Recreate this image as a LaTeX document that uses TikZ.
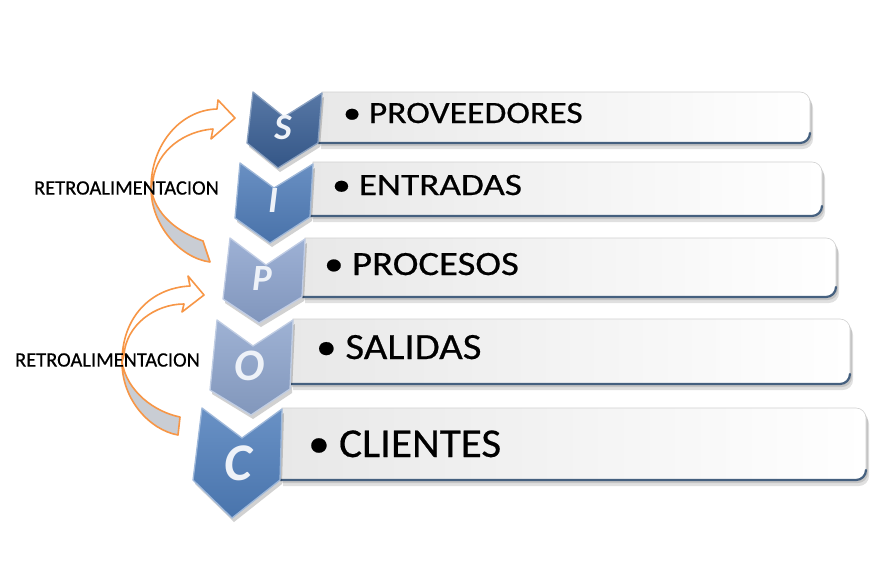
\documentclass[tikz,border=0pt]{standalone}
\usepackage{fontspec}
\setmainfont{Carlito}
\newfontfamily\rowfont[FakeBold=0.5]{Carlito}
\usepackage{graphicx}
\definecolor{cS}{HTML}{3A6096}
\definecolor{cI}{HTML}{4F7CB8}
\definecolor{cP}{HTML}{8CA3CD}
\definecolor{cO}{HTML}{8DA4CC}
\definecolor{cC}{HTML}{4F7EBB}
\definecolor{arrOr}{HTML}{F79646}
\definecolor{arrGray}{HTML}{C9CDD4}
\definecolor{edgeBlue}{HTML}{45607F}
\definecolor{letterW}{HTML}{EEF2F8}
\newcommand{\rowpath}[5]{(#1,#3) -- ({#5-10},#3) .. controls ({#5-4.5},#3) and (#5,{#3+4.5}) .. (#5,{#3+10}) -- (#5,{#4-10}) .. controls (#5,{#4-4.5}) and ({#5-4.5},#4) .. ({#5-10},#4) -- (#2,#4) -- cycle}
\newcommand{\rowedge}[4]{(#1,#2) -- ({#4-10},#2) .. controls ({#4-4.5},#2) and (#4,{#2-4.5}) .. (#4,{#2-10})}
\newcommand{\drawrow}[5]{%
  \fill[black,opacity=0.12,shift={(3,6)}] \rowpath{#1}{#2}{#3}{#4}{#5};
  \fill[black,opacity=0.12,shift={(2,3)}] \rowpath{#1}{#2}{#3}{#4}{#5};
  \path[rowbox] \rowpath{#1}{#2}{#3}{#4}{#5};
  \draw[rowedge] \rowedge{#2}{#4}{#3}{#5};}
\tikzset{
  rowbox/.style={left color=black!9, right color=white, draw=black!18, line width=0.6pt},
  rowedge/.style={draw=edgeBlue, line width=2.2pt, line cap=round},
  chevbase/.style={line width=1.3pt, line join=round},
  chevshadow/.style={fill=black, opacity=0.18, shift={(2,4)}},
  letter/.style={text=letterW, inner sep=0pt},
  rowtext/.style={anchor=base west, inner sep=0pt, text=black},
  fbtext/.style={font=\rowfont\fontsize{20.5}{22}\selectfont, inner sep=0pt, text=black},
  arrfront/.style={fill=white, draw=arrOr, line width=1.6pt, line join=round},
  arrback/.style={fill=arrGray, draw=arrOr, line width=1.6pt, line join=round}
}
\begin{document}
\begin{tikzpicture}[x=1pt,y=-1pt]
\useasboundingbox (0,0) rectangle (880,562);
\fill[white] (0,0) rectangle (880,562);

% rows: ltx, lbx, top, bottom, right
\drawrow{322}{318}{92}{143}{810}
\drawrow{313}{310}{162}{216}{822}
\drawrow{305}{302}{238}{297}{836}
\drawrow{293}{290}{319}{384}{850}
\drawrow{282}{280}{408}{480}{866}

% chevrons
\fill[chevshadow] (253,92) -- (284,117) -- (322,93) -- (318,143) -- (278,168) -- (247,143) -- cycle;
\path[chevbase, top color=cS!85!white, bottom color=cS!90!black, draw=cS!60!white] (253,92) -- (284,117) -- (322,93) -- (318,143) -- (278,168) -- (247,143) -- cycle;
\fill[chevshadow] (240,163) -- (274,188) -- (313,164) -- (310,217) -- (270,243) -- (235,218) -- cycle;
\path[chevbase, top color=cI!85!white, bottom color=cI!92!black, draw=cI!55!white] (240,163) -- (274,188) -- (313,164) -- (310,217) -- (270,243) -- (235,218) -- cycle;
\fill[chevshadow] (230,238) -- (266,265) -- (305,239) -- (302,297) -- (259,323) -- (223,299) -- cycle;
\path[chevbase, top color=cP!85!white, bottom color=cP!92!black, draw=cP!55!white] (230,238) -- (266,265) -- (305,239) -- (302,297) -- (259,323) -- (223,299) -- cycle;
\fill[chevshadow] (217,320) -- (253,346) -- (293,320) -- (290,389) -- (251,415) -- (210,390) -- cycle;
\path[chevbase, top color=cO!85!white, bottom color=cO!92!black, draw=cO!55!white] (217,320) -- (253,346) -- (293,320) -- (290,389) -- (251,415) -- (210,390) -- cycle;
\fill[chevshadow] (202,408) -- (242,438) -- (282,409) -- (280,480) -- (232,518) -- (193,480) -- cycle;
\path[chevbase, top color=cC!85!white, bottom color=cC!92!black, draw=cC!55!white] (202,408) -- (242,438) -- (282,409) -- (280,480) -- (232,518) -- (193,480) -- cycle;

% letters
\node[letter, font=\fontsize{37}{40}\selectfont\bfseries\itshape] (lS) at (283,128) {S};
\node[letter, font=\fontsize{37}{40}\selectfont\bfseries\itshape] (lI) at (273,201) {I};
\node[letter, font=\fontsize{37}{40}\selectfont\bfseries\itshape] (lP) at (262,278) {P};
\node[letter, font=\fontsize{45}{48}\selectfont\bfseries\itshape] (lO) at (250,366) {O};
\node[letter, font=\fontsize{53}{56}\selectfont\bfseries\itshape] (lC) at (238,463) {C};

% row texts
\node[rowtext, font=\rowfont\fontsize{31}{33}\selectfont] (tS) at (343,123) {\scalebox{1.15}[1]{•\hspace{0.22em}PROVEEDORES}};
\node[rowtext, font=\rowfont\fontsize{31}{33}\selectfont] (tI) at (332,195) {\scalebox{1.2}[1]{•\hspace{0.22em}ENTRADAS}};
\node[rowtext, font=\rowfont\fontsize{34}{36}\selectfont] (tP) at (324,275) {\scalebox{1.14}[1]{•\hspace{0.22em}PROCESOS}};
\node[rowtext, font=\rowfont\fontsize{37}{39}\selectfont] (tO) at (316,359) {\scalebox{1.1}[1]{•\hspace{0.22em}SALIDAS}};
\node[rowtext, font=\rowfont\fontsize{41}{43}\selectfont] (tC) at (308,457) {\scalebox{1.05}[1]{•\hspace{0.22em}CLIENTES}};

% feedback arrow 1
\path[arrback] (210,262) .. controls (180,258) and (151,225) .. (151,188) .. controls (155,215) and (178,232) .. (203,241) -- cycle;
\path[arrfront] (151,188) .. controls (151,145) and (180,110) .. (217,109) -- (218,100) -- (235,118) -- (211,139) -- (213,129) .. controls (185,131) and (157,150) .. (153,180) -- cycle;
% feedback arrow 2
\path[arrback] (178,435) .. controls (150,430) and (122,400) .. (122,362) .. controls (127,392) and (155,412) .. (180,417) -- cycle;
\path[arrfront] (122,362) .. controls (122,318) and (150,288) .. (190,286) -- (188,276) -- (204,295) -- (182,312) -- (184,304) .. controls (155,304) and (126,325) .. (124,355) -- cycle;

\node[fbtext] (fb1) at (126.5,188) {RETROALIMENTACION};
\node[fbtext] (fb2) at (107.5,360) {RETROALIMENTACION};
\end{tikzpicture}
\end{document}
